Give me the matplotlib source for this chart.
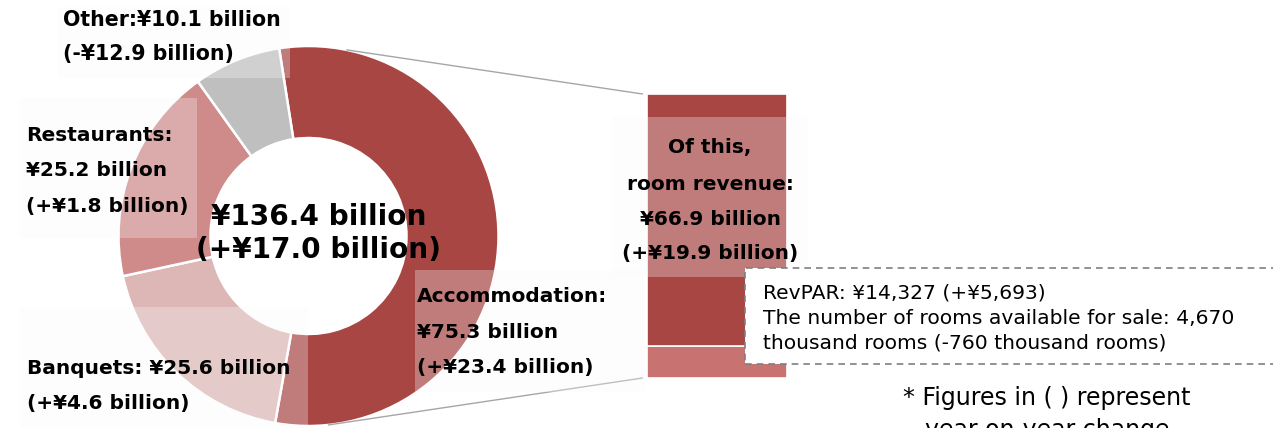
import matplotlib
matplotlib.use("Agg")
import matplotlib.pyplot as plt
from matplotlib.patches import Rectangle, ConnectionPatch
import numpy as np

# Revenue breakdown (¥ billion) and year-on-year change
segments = ["Accommodation", "Banquets", "Restaurants", "Other"]
revenue = [75.3, 25.6, 25.2, 10.1]
change = [23.4, 4.6, 1.8, -12.9]
total_revenue = 136.4
total_change = 17.0

# Accommodation split: room revenue vs. remainder
accom_parts = ["Room revenue", "Other accommodation"]
room_revenue = 66.9
room_change = 19.9
accom_other = 75.3 - 66.9

revpar = 14327
revpar_change = 5693
rooms_available = 4670
rooms_change = -760

seg_colors = ["#A84644", "#DDB6B6", "#CF8A8A", "#BFBFBF"]
room_color = "#A84644"
accom_other_color = "#C87371"

W, H = 1273, 428
DPI = 100
FONT = ["DejaVu Sans"]

fig = plt.figure(figsize=(W / DPI, H / DPI), dpi=DPI)
fig.patch.set_facecolor("white")


def fmt_bn(v):
    return f"¥{v:.1f} billion"


def fmt_chg(v):
    sign = "+" if v >= 0 else "-"
    return f"({sign}¥{abs(v):.1f} billion)"


# Stacked bar for the accommodation breakdown
bx0, bx1, by0, by1 = 646.7, 786.7, 94.0, 378.0
bar_ax = fig.add_axes([bx0 / W, (H - by1) / H, (bx1 - bx0) / W, (by1 - by0) / H])
bar_ax.bar([0], [accom_other], width=1.0, color=accom_other_color,
           edgecolor="white", linewidth=1.2)
bar_ax.bar([0], [room_revenue], bottom=[accom_other], width=1.0, color=room_color,
           edgecolor="white", linewidth=1.2)
bar_ax.set_xlim(-0.5, 0.5)
bar_ax.set_ylim(0, accom_other + room_revenue)
bar_ax.axis("off")
bar_ax.set_zorder(1)

# Main canvas in pixel units (y upwards)
ax = fig.add_axes([0, 0, 1, 1])
ax.set_zorder(2)
ax.patch.set_visible(False)

cx, cy, R, ring = 308.5, H - 236.0, 190.0, 92.0
ax.pie(revenue, colors=seg_colors, startangle=98.9, counterclock=False,
       center=(cx, cy), radius=R,
       wedgeprops=dict(width=ring, edgecolor="white", linewidth=1.8))
ax.set_xlim(0, W)
ax.set_ylim(0, H)
ax.set_aspect("auto")
ax.axis("off")

# Connector lines from the accommodation wedge to the bar
for ang, ybar in [(78.4, accom_other + room_revenue), (-84.0, 0.0)]:
    p = (cx + R * np.cos(np.radians(ang)), cy + R * np.sin(np.radians(ang)))
    con = ConnectionPatch(xyA=p, coordsA=ax.transData,
                          xyB=(-0.53, ybar), coordsB=bar_ax.transData,
                          color="#A6A6A6", linewidth=1.0, zorder=3)
    ax.add_artist(con)


def box(x0, y0, x1, y1, **kw):
    r = Rectangle((x0, H - y1), x1 - x0, y1 - y0, **kw)
    ax.add_patch(r)


# Translucent label backgrounds
soft = dict(facecolor="#fafafa", edgecolor="none", alpha=0.3, zorder=4)
box(58, 7, 290, 78, **soft)
box(20, 98, 197, 238, **soft)
box(20, 307, 308, 430, **soft)
box(415, 270, 645, 392, **soft)
box(612, 117, 808, 277, **soft)


def txt(x, y, s, size=14.5, weight="bold", ha="left", **kw):
    ax.text(x, H - y, s, fontsize=size, fontweight=weight, ha=ha, va="center",
            family=FONT, color="black", zorder=8, **kw)


# Segment labels
txt(63, 20, f"{segments[3]}:{fmt_bn(revenue[3])}", size=14.8)
txt(63, 54, fmt_chg(change[3]), size=14.8)
txt(26, 135, f"{segments[2]}:")
txt(26, 170, fmt_bn(revenue[2]))
txt(26, 206, fmt_chg(change[2]))
txt(27, 368, f"{segments[1]}: {fmt_bn(revenue[1])}")
txt(27, 404, fmt_chg(change[1]))
txt(417, 297, f"{segments[0]}:")
txt(417, 332, fmt_bn(revenue[0]))
txt(417, 368, fmt_chg(change[0]))

# Total in the centre of the ring
txt(319, 217, fmt_bn(total_revenue), size=20.2, ha="center")
txt(319, 250, fmt_chg(total_change), size=20.2, ha="center")

# Room revenue label on the bar
txt(710, 147, "Of this,", ha="center")
txt(710, 184, "room revenue:", ha="center")
txt(710, 219, fmt_bn(room_revenue), ha="center")
txt(710, 253, fmt_chg(room_change), ha="center")

# RevPAR note box
box(745, 268, 1290, 364, facecolor="white", edgecolor="#7F7F7F", linewidth=1.2,
    linestyle=(0, (4, 3)), zorder=6)
rsign = "+" if revpar_change >= 0 else "-"
txt(763, 293, f"RevPAR: ¥{revpar:,} ({rsign}¥{abs(revpar_change):,})",
    size=14.6, weight="normal")
txt(763, 318, f"The number of rooms available for sale: {rooms_available:,}",
    size=14.6, weight="normal")
csign = "+" if rooms_change >= 0 else "-"
txt(763, 343, f"thousand rooms ({csign}{abs(rooms_change):,} thousand rooms)",
    size=14.6, weight="normal")

# Footnote
txt(903, 398, "* Figures in ( ) represent", size=17, weight="normal")
txt(925, 430, "year-on-year change", size=17, weight="normal")

fig.savefig("out.png", dpi=DPI, facecolor="white")
